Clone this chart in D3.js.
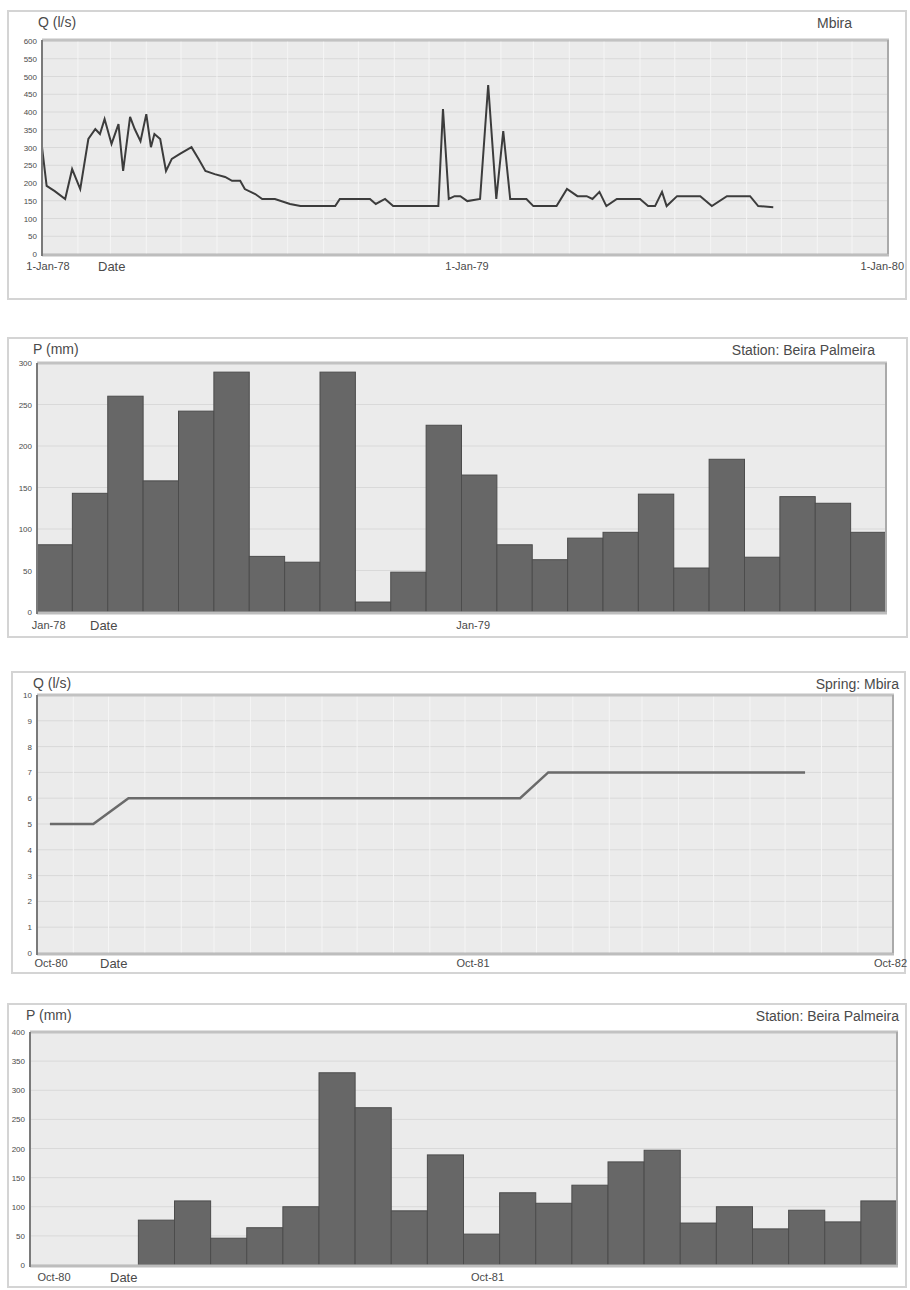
<!DOCTYPE html>
<html><head><meta charset="utf-8">
<script src="https://cdn.jsdelivr.net/npm/d3@7"></script>
<style>body{margin:0;background:#fff}svg{display:block}text{font-family:"Liberation Sans",Arial,sans-serif}</style>
</head><body><svg id="c" width="910" height="1290"></svg>
<script>
// ---- Panel 1: discharge Q (l/s), Mbira, 1978-1979 (days since 1-Jan-78)
const q1Days=[0,4,11,20,26,33,40,46,50,54,60,66,70,76,80,85,90,94,97,102,107,112,119,129,135,141,149,158,164,171,175,184,190,201,214,223,253,257,283,288,296,303,342,346,351,356,361,367,378,385,392,398,404,418,424,444,453,462,470,475,481,487,496,516,523,529,535,539,548,568,578,591,611,618,631];
const q1Vals=[301,192,177,155,239,183,324,352,338,380,310,366,234,386,352,318,394,301,338,324,234,268,282,301,268,234,225,217,206,206,183,169,155,155,141,135,135,155,155,141,155,135,135,408,155,163,163,149,155,476,155,346,155,155,135,135,183,163,163,155,175,135,155,155,135,135,175,135,163,163,135,163,163,135,132];
const q1Ticks=[0,50,100,150,200,250,300,350,400,450,500,550,600];
const q1XTicks=["1978-01-01","1979-01-01","1980-01-01"];

// ---- Panel 2: monthly precipitation P (mm), 1978-1979
const p1Months=["1978-01","1978-02","1978-03","1978-04","1978-05","1978-06","1978-07","1978-08","1978-09","1978-10","1978-11","1978-12","1979-01","1979-02","1979-03","1979-04","1979-05","1979-06","1979-07","1979-08","1979-09","1979-10","1979-11","1979-12"];
const p1Vals=[81,143,260,158,242,289,67,60,289,12,48,225,165,81,63,89,96,142,53,184,66,139,131,96];
const p1Ticks=[0,50,100,150,200,250,300];
const p1XTicks=["1978-01","1979-01"];

// ---- Panel 3: discharge Q (l/s), Spring Mbira, 1980-1982
const q2Dates=["1980-10-12","1980-11-18","1980-12-18","1981-11-17","1981-12-11","1982-07-18"];
const q2Vals=[5,5,6,6,7,7];
const q2Ticks=[0,1,2,3,4,5,6,7,8,9,10];
const q2XTicks=["1980-10-01","1981-10-01","1982-10-01"];

// ---- Panel 4: monthly precipitation P (mm), Oct-80 to Sep-82
const p2Months=["1980-10","1980-11","1980-12","1981-01","1981-02","1981-03","1981-04","1981-05","1981-06","1981-07","1981-08","1981-09","1981-10","1981-11","1981-12","1982-01","1982-02","1982-03","1982-04","1982-05","1982-06","1982-07","1982-08","1982-09"];
const p2Vals=[0,0,0,77,110,46,64,100,330,270,93,189,53,124,106,137,177,197,72,100,62,94,74,110];
const p2Ticks=[0,50,100,150,200,250,300,350,400];
const p2XTicks=["1980-10","1981-10"];

const svg=d3.select("#c");
const pd=d3.timeParse("%Y-%m-%d"), pm=d3.timeParse("%Y-%m");
const fmtD=d3.timeFormat("%-d-%b-%y"), fmtM=d3.timeFormat("%b-%y");
const txt="#4a4a4a";

function base(f,p,title,right,rightX,ticks,y){
  const g=svg.append("g");
  g.append("rect").attr("x",f.x).attr("y",f.y).attr("width",f.w).attr("height",f.h)
   .attr("fill","#fff").attr("stroke","#d4d4d4").attr("stroke-width",2);
  g.append("rect").attr("x",p.l).attr("y",p.t).attr("width",p.r-p.l).attr("height",p.b-p.t).attr("fill","#ebebeb");
  g.append("text").attr("x",p.l-4).attr("y",f.y+16).attr("font-size",14).attr("fill",txt).text(title);
  g.append("text").attr("x",rightX).attr("y",f.y+17).attr("text-anchor","end").attr("font-size",14).attr("fill",txt).text(right);
  g.selectAll(".hg").data(ticks).join("line").attr("x1",p.l).attr("x2",p.r)
   .attr("y1",d=>y(d)).attr("y2",d=>y(d)).attr("stroke","#d9d9d9").attr("stroke-width",1);
  g.selectAll(".yl").data(ticks).join("text").attr("x",p.l-5).attr("y",d=>y(d)+3)
   .attr("text-anchor","end").attr("font-size",8).attr("fill",txt).text(d=>d);
  return g;
}
function frameLines(g,p){
  g.append("line").attr("x1",p.l).attr("x2",p.r+1).attr("y1",p.t).attr("y2",p.t).attr("stroke","#c2c2c2").attr("stroke-width",3);
  g.append("line").attr("x1",p.l).attr("x2",p.r+1).attr("y1",p.b+1).attr("y2",p.b+1).attr("stroke","#bdbdbd").attr("stroke-width",3);
  g.append("line").attr("x1",p.r).attr("x2",p.r).attr("y1",p.t).attr("y2",p.b).attr("stroke","#aaa").attr("stroke-width",2);
  g.append("line").attr("x1",p.l).attr("x2",p.l).attr("y1",p.t).attr("y2",p.b+2).attr("stroke","#7a7a7a").attr("stroke-width",2);
}

// Panel 1
(function(){
  const f={x:8,y:11,w:898,h:288}, p={l:42,t:40,r:888,b:254};
  const x=d3.scaleTime().domain([pd("1978-01-01"),pd("1980-01-01")]).range([p.l,p.r]);
  const y=d3.scaleLinear().domain([0,600]).range([p.b,p.t+1]);
  const g=base(f,p,"Q (l/s)","Mbira",852,q1Ticks,y);
  g.selectAll(".vg").data(x.ticks(d3.timeMonth.every(1))).join("line").attr("x1",d=>x(d)).attr("x2",d=>x(d))
   .attr("y1",p.t).attr("y2",p.b).attr("stroke","#f5f5f5");
  const t0=pd("1978-01-01");
  const data=q1Days.map((d,i)=>({d:d3.timeDay.offset(t0,d),v:q1Vals[i]}));
  g.append("path").datum(data).attr("fill","none").attr("stroke","#3c3c3c").attr("stroke-width",2)
   .attr("d",d3.line().x(d=>x(d.d)).y(d=>y(d.v)));
  frameLines(g,p);
  q1XTicks.forEach((t,i)=>{
    g.append("text").attr("x",i==2?f.x+f.w-2:x(pd(t))+(i==0?6:2)).attr("y",p.b+16)
     .attr("text-anchor",i==2?"end":"middle").attr("font-size",11).attr("fill",txt).text(fmtD(pd(t)));
  });
  g.append("text").attr("x",p.l+56).attr("y",p.b+17).attr("font-size",13).attr("fill",txt).text("Date");
})();

// Panel 2
(function(){
  const f={x:8,y:338,w:899,h:299}, p={l:37,t:363,r:886,b:612};
  const x=d3.scaleBand().domain(p1Months).range([p.l,p.r]).padding(0);
  const y=d3.scaleLinear().domain([0,300]).range([p.b,p.t]);
  const g=base(f,p,"P (mm)","Station: Beira Palmeira",875,p1Ticks,y);
  g.selectAll(".bar").data(p1Months).join("rect").attr("x",d=>x(d)).attr("width",x.bandwidth())
   .attr("y",(d,i)=>y(p1Vals[i])).attr("height",(d,i)=>y(0)-y(p1Vals[i]))
   .attr("fill","#676767").attr("stroke","#4c4c4c").attr("stroke-width",1);
  frameLines(g,p);
  p1XTicks.forEach(t=>{
    g.append("text").attr("x",x(t)+x.bandwidth()/2-6).attr("y",p.b+17).attr("text-anchor","middle")
     .attr("font-size",11).attr("fill",txt).text(fmtM(pm(t)));
  });
  g.append("text").attr("x",p.l+53).attr("y",p.b+18).attr("font-size",13).attr("fill",txt).text("Date");
})();

// Panel 3
(function(){
  const f={x:12,y:672,w:893,h:301}, p={l:37,t:695,r:893,b:953};
  const x=d3.scaleTime().domain([pd("1980-10-01"),pd("1982-10-01")]).range([p.l,p.r]);
  const y=d3.scaleLinear().domain([0,10]).range([p.b,p.t]);
  const g=base(f,p,"Q (l/s)","Spring: Mbira",899,q2Ticks,y);
  g.selectAll(".vg").data(x.ticks(d3.timeMonth.every(1))).join("line").attr("x1",d=>x(d)).attr("x2",d=>x(d))
   .attr("y1",p.t).attr("y2",p.b).attr("stroke","#f5f5f5");
  const data=q2Dates.map((d,i)=>({d:pd(d),v:q2Vals[i]}));
  g.append("path").datum(data).attr("fill","none").attr("stroke","#6a6a6a").attr("stroke-width",2.5)
   .attr("d",d3.line().x(d=>x(d.d)).y(d=>y(d.v)));
  frameLines(g,p);
  q2XTicks.forEach((t,i)=>{
    g.append("text").attr("x",i==2?f.x+f.w+2:x(pd(t))+(i==0?14:8)).attr("y",p.b+14)
     .attr("text-anchor",i==2?"end":"middle").attr("font-size",11).attr("fill",txt).text(fmtM(pd(t)));
  });
  g.append("text").attr("x",p.l+63).attr("y",p.b+15).attr("font-size",13).attr("fill",txt).text("Date");
})();

// Panel 4
(function(){
  const f={x:8,y:1004,w:898,h:283}, p={l:30,t:1032,r:897,b:1265};
  const x=d3.scaleBand().domain(p2Months).range([p.l,p.r]).padding(0);
  const y=d3.scaleLinear().domain([0,400]).range([p.b,p.t]);
  const g=base(f,p,"P (mm)","Station: Beira Palmeira",899,p2Ticks,y);
  g.selectAll(".bar").data(p2Months.filter((d,i)=>p2Vals[i]>0)).join("rect").attr("x",d=>x(d)).attr("width",x.bandwidth())
   .attr("y",d=>y(p2Vals[p2Months.indexOf(d)])).attr("height",d=>y(0)-y(p2Vals[p2Months.indexOf(d)]))
   .attr("fill","#676767").attr("stroke","#4c4c4c").attr("stroke-width",1);
  frameLines(g,p);
  p2XTicks.forEach(t=>{
    g.append("text").attr("x",x(t)+x.bandwidth()/2+6).attr("y",p.b+16).attr("text-anchor","middle")
     .attr("font-size",11).attr("fill",txt).text(fmtM(pm(t)));
  });
  g.append("text").attr("x",p.l+80).attr("y",p.b+17).attr("font-size",13).attr("fill",txt).text("Date");
})();
</script></body></html>
